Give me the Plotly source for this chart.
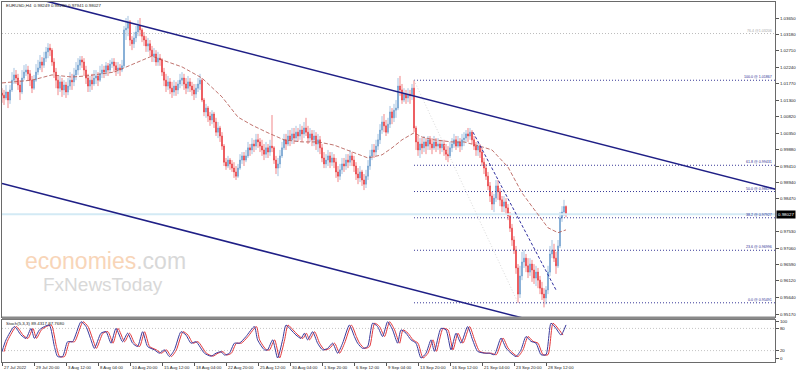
import plotly.graph_objects as go

# ---------------- DATA (EURUSD H4, bar 0 = 27 Jul 2022 08:00) ----------------
bars_close = [
    1.0144, 1.0136, 1.0153, 1.0130, 1.0159, 1.0187, 1.0202, 1.0193, 1.0173, 1.0153,
    1.0193, 1.0210, 1.0216, 1.0205, 1.0187, 1.0164, 1.0187, 1.0210, 1.0222, 1.0239,
    1.0230, 1.0250, 1.0268, 1.0279, 1.0273, 1.0239, 1.0210, 1.0187, 1.0164, 1.0182,
    1.0159, 1.0173, 1.0153, 1.0170, 1.0187, 1.0182, 1.0202, 1.0216, 1.0230, 1.0245,
    1.0239, 1.0216, 1.0193, 1.0170, 1.0187, 1.0176, 1.0193, 1.0199, 1.0187, 1.0205,
    1.0216, 1.0210, 1.0228, 1.0216, 1.0233, 1.0239, 1.0228, 1.0216, 1.0222, 1.0216,
    1.0228, 1.0331, 1.0336, 1.0354, 1.0302, 1.0291, 1.0308, 1.0325, 1.0342, 1.0331,
    1.0313, 1.0302, 1.0285, 1.0291, 1.0273, 1.0256, 1.0262, 1.0239, 1.0250, 1.0245,
    1.0210, 1.0187, 1.0170, 1.0182, 1.0164, 1.0153, 1.0170, 1.0159, 1.0176, 1.0187,
    1.0193, 1.0176, 1.0164, 1.0182, 1.0170, 1.0159, 1.0147, 1.0164, 1.0176, 1.0187,
    1.0130, 1.0096, 1.0107, 1.0084, 1.0073, 1.0090, 1.0067, 1.0038, 1.0050, 1.0027,
    0.9998, 0.9952, 0.9941, 0.9958, 0.9947, 0.9935, 0.9924, 0.9912, 0.9935, 0.9958,
    0.9970, 0.9958, 0.9970, 0.9993, 0.9987, 1.0004, 0.9998, 1.0016, 1.0010, 0.9998,
    0.9987, 0.9975, 0.9993, 0.9981, 0.9998, 0.9993, 0.9958, 0.9935, 0.9947, 0.9970,
    0.9993, 1.0016, 1.0004, 1.0027, 1.0016, 1.0033, 1.0021, 1.0038, 1.0027, 1.0044,
    1.0033, 1.0050, 1.0038, 1.0021, 1.0033, 1.0016, 1.0027, 1.0004, 1.0016, 0.9993,
    0.9964, 0.9947, 0.9958, 0.9970, 0.9952, 0.9964, 0.9952, 0.9924, 0.9912, 0.9930,
    0.9947, 0.9941, 0.9958, 0.9952, 0.9970, 0.9958, 0.9941, 0.9918, 0.9907, 0.9924,
    0.9901, 0.9889, 0.9912, 0.9941, 0.9970, 0.9987, 0.9981, 0.9998, 1.0016, 1.0044,
    1.0067, 1.0056, 1.0038, 1.0061, 1.0096, 1.0079, 1.0101, 1.0107, 1.0170, 1.0159,
    1.0130, 1.0147, 1.0136, 1.0147, 1.0142, 1.0164, 1.0050, 1.0010, 0.9987, 1.0004,
    0.9993, 1.0010, 0.9998, 1.0016, 1.0004, 0.9993, 1.0010, 0.9998, 1.0004, 0.9993,
    1.0004, 0.9987, 0.9975, 0.9970, 0.9993, 1.0004, 1.0016, 0.9998, 1.0010, 0.9998,
    1.0016, 1.0021, 1.0033, 1.0027, 1.0038, 1.0016, 0.9998, 0.9987, 0.9998, 0.9981,
    0.9952, 0.9935, 0.9912, 0.9884, 0.9855, 0.9832, 0.9849, 0.9884, 0.9867, 0.9844,
    0.9826, 0.9838, 0.9821, 0.9798, 0.9763, 0.9729, 0.9700, 0.9649, 0.9574, 0.9626,
    0.9666, 0.9677, 0.9655, 0.9637, 0.9660, 0.9643, 0.9620, 0.9637, 0.9614, 0.9591,
    0.9574, 0.9563, 0.9586, 0.9637, 0.9689, 0.9700, 0.9677, 0.9655, 0.9712, 0.9792,
    0.9809, 0.98249, 0.98027,
]
bars_high = [
    1.0164, 1.0159, 1.0173, 1.0153, 1.0173, 1.0210, 1.0222, 1.0216, 1.0205, 1.0187,
    1.0216, 1.0230, 1.0233, 1.0228, 1.0216, 1.0199, 1.0202, 1.0233, 1.0245, 1.0259,
    1.0253, 1.0268, 1.0282, 1.0293, 1.0291, 1.0279, 1.0250, 1.0222, 1.0199, 1.0199,
    1.0193, 1.0187, 1.0182, 1.0193, 1.0210, 1.0205, 1.0222, 1.0239, 1.0250, 1.0256,
    1.0256, 1.0250, 1.0228, 1.0205, 1.0199, 1.0205, 1.0216, 1.0216, 1.0210, 1.0228,
    1.0233, 1.0228, 1.0239, 1.0236, 1.0245, 1.0250, 1.0250, 1.0239, 1.0239, 1.0233,
    1.0245, 1.0342, 1.0365, 1.0371, 1.0359, 1.0313, 1.0325, 1.0342, 1.0359, 1.0365,
    1.0336, 1.0325, 1.0313, 1.0308, 1.0302, 1.0285, 1.0279, 1.0273, 1.0268, 1.0262,
    1.0250, 1.0222, 1.0205, 1.0199, 1.0193, 1.0182, 1.0187, 1.0182, 1.0187, 1.0205,
    1.0210, 1.0205, 1.0193, 1.0199, 1.0193, 1.0182, 1.0176, 1.0176, 1.0193, 1.0205,
    1.0193, 1.0136, 1.0119, 1.0113, 1.0096, 1.0101, 1.0096, 1.0079, 1.0067, 1.0056,
    1.0038, 1.0004, 0.9964, 0.9970, 0.9964, 0.9958, 0.9952, 0.9941, 0.9947, 0.9975,
    0.9981, 0.9981, 0.9987, 1.0010, 1.0004, 1.0021, 1.0016, 1.0033, 1.0033, 1.0021,
    1.0016, 1.0004, 1.0010, 1.0004, 1.0016, 1.0087, 0.9998, 0.9970, 0.9964, 0.9987,
    1.0010, 1.0033, 1.0033, 1.0044, 1.0044, 1.0050, 1.0050, 1.0056, 1.0050, 1.0061,
    1.0056, 1.0067, 1.0079, 1.0056, 1.0050, 1.0044, 1.0044, 1.0038, 1.0033, 1.0027,
    1.0004, 0.9981, 0.9975, 0.9987, 0.9981, 0.9981, 0.9975, 0.9964, 0.9941, 0.9947,
    0.9964, 0.9964, 0.9975, 0.9975, 0.9987, 0.9981, 0.9970, 0.9952, 0.9935, 0.9941,
    0.9930, 0.9918, 0.9930, 0.9958, 0.9987, 1.0004, 1.0004, 1.0016, 1.0033, 1.0061,
    1.0084, 1.0090, 1.0073, 1.0079, 1.0113, 1.0107, 1.0119, 1.0130, 1.0193, 1.0199,
    1.0176, 1.0164, 1.0159, 1.0164, 1.0159, 1.0176, 1.01867, 1.0056, 1.0027, 1.0021,
    1.0021, 1.0027, 1.0021, 1.0027, 1.0027, 1.0021, 1.0027, 1.0021, 1.0021, 1.0016,
    1.0016, 1.0016, 1.0004, 0.9998, 1.0010, 1.0021, 1.0033, 1.0027, 1.0027, 1.0021,
    1.0033, 1.0038, 1.0044, 1.0050, 1.0050, 1.0044, 1.0027, 1.0010, 1.0010, 1.0004,
    0.9993, 0.9964, 0.9947, 0.9924, 0.9895, 0.9867, 0.9861, 0.9901, 0.9901, 0.9878,
    0.9855, 0.9855, 0.9849, 0.9832, 0.9809, 0.9775, 0.9740, 0.9712, 0.9660, 0.9655,
    0.9695, 0.9700, 0.9689, 0.9677, 0.9677, 0.9672, 0.9660, 0.9655, 0.9649, 0.9626,
    0.9609, 0.9591, 0.9597, 0.9655, 0.9712, 0.9729, 0.9718, 0.9695, 0.9729, 0.9809,
    0.9826, 0.9844, 0.98280,
]
bars_low = [
    1.0122, 1.0116, 1.0130, 1.0107, 1.0119, 1.0153, 1.0176, 1.0176, 1.0159, 1.0130,
    1.0147, 1.0187, 1.0199, 1.0187, 1.0170, 1.0150, 1.0159, 1.0182, 1.0202, 1.0216,
    1.0210, 1.0222, 1.0239, 1.0250, 1.0256, 1.0228, 1.0193, 1.0164, 1.0144, 1.0153,
    1.0139, 1.0144, 1.0136, 1.0144, 1.0159, 1.0159, 1.0170, 1.0187, 1.0202, 1.0216,
    1.0222, 1.0199, 1.0176, 1.0153, 1.0153, 1.0159, 1.0170, 1.0176, 1.0170, 1.0182,
    1.0193, 1.0193, 1.0199, 1.0199, 1.0210, 1.0222, 1.0210, 1.0199, 1.0205, 1.0199,
    1.0210, 1.0222, 1.0302, 1.0313, 1.0285, 1.0273, 1.0279, 1.0296, 1.0313, 1.0313,
    1.0296, 1.0285, 1.0268, 1.0268, 1.0256, 1.0239, 1.0239, 1.0228, 1.0228, 1.0228,
    1.0199, 1.0170, 1.0153, 1.0159, 1.0147, 1.0136, 1.0142, 1.0142, 1.0147, 1.0164,
    1.0170, 1.0159, 1.0147, 1.0153, 1.0153, 1.0142, 1.0130, 1.0136, 1.0153, 1.0159,
    1.0124, 1.0084, 1.0079, 1.0067, 1.0056, 1.0061, 1.0050, 1.0027, 1.0021, 1.0010,
    0.9987, 0.9941, 0.9930, 0.9935, 0.9930, 0.9924, 0.9907, 0.9901, 0.9907, 0.9930,
    0.9947, 0.9941, 0.9952, 0.9964, 0.9970, 0.9975, 0.9981, 0.9987, 0.9993, 0.9981,
    0.9970, 0.9958, 0.9964, 0.9964, 0.9970, 0.9981, 0.9947, 0.9918, 0.9912, 0.9935,
    0.9964, 0.9987, 0.9987, 0.9998, 0.9998, 1.0004, 1.0004, 1.0010, 1.0010, 1.0016,
    1.0010, 1.0021, 1.0027, 1.0004, 1.0010, 0.9998, 0.9998, 0.9987, 0.9981, 0.9975,
    0.9952, 0.9935, 0.9935, 0.9941, 0.9935, 0.9941, 0.9935, 0.9907, 0.9895, 0.9901,
    0.9918, 0.9924, 0.9930, 0.9935, 0.9941, 0.9941, 0.9924, 0.9901, 0.9889, 0.9895,
    0.9884, 0.9872, 0.9878, 0.9901, 0.9930, 0.9958, 0.9964, 0.9970, 0.9987, 1.0004,
    1.0033, 1.0038, 1.0027, 1.0033, 1.0050, 1.0061, 1.0067, 1.0079, 1.0101, 1.0142,
    1.0119, 1.0124, 1.0119, 1.0124, 1.0119, 1.0130, 1.0038, 0.9987, 0.9970, 0.9964,
    0.9975, 0.9981, 0.9975, 0.9987, 0.9987, 0.9975, 0.9987, 0.9981, 0.9987, 0.9975,
    0.9981, 0.9970, 0.9958, 0.9952, 0.9964, 0.9981, 0.9993, 0.9987, 0.9993, 0.9981,
    0.9987, 0.9998, 1.0010, 1.0010, 1.0016, 1.0004, 0.9987, 0.9970, 0.9970, 0.9964,
    0.9941, 0.9918, 0.9901, 0.9872, 0.9838, 0.9815, 0.9809, 0.9838, 0.9844, 0.9826,
    0.9809, 0.9809, 0.9803, 0.9786, 0.9752, 0.9712, 0.9689, 0.9632, 0.95491, 0.9563,
    0.9614, 0.9649, 0.9637, 0.9620, 0.9626, 0.9609, 0.9603, 0.9597, 0.9591, 0.9574,
    0.9557, 0.9536, 0.9545, 0.9574, 0.9626, 0.9677, 0.9666, 0.9632, 0.9649, 0.9706,
    0.9781, 0.9798, 0.97941,
]
first_open = 1.0150

# Moving average (dashed) sampled at bars
ma_bar = [0, 15, 25, 35, 42, 56, 61, 71, 75, 80, 90, 100, 110, 118, 125, 133, 141, 150,
          158, 166, 175, 183, 190, 195, 200, 206, 210, 216, 225, 231, 240, 245, 253, 260,
          265, 270, 273, 278, 282]
ma_val = [1.0179, 1.0187, 1.0202, 1.0196, 1.0199, 1.0210, 1.0222, 1.0245, 1.0256, 1.0245,
          1.0225, 1.0193, 1.0139, 1.0081, 1.0058, 1.0036, 1.0016, 1.0010, 1.0010, 1.0001,
          0.9981, 0.9964, 0.9973, 0.9993, 1.0016, 1.0036, 1.0024, 1.0016, 1.0010, 1.0010,
          0.9996, 0.9987, 0.9938, 0.9864, 0.9825, 0.9787, 0.9764, 0.9750, 0.9758]

# Drawing objects (bar index, price)
chan_upper_bar = [0, 387]
chan_upper_px = [1.0446, 0.9874]
chan_lower_bar = [0, 387]
chan_lower_px = [0.9891, 0.9318]
trend_dash_bar = [235.5, 277]
trend_dash_px = [1.0038, 0.9586]
fib_base_bar = [206, 258]
fib_base_px = [1.01867, 0.95491]
fib_levels = [100.0, 61.8, 50.0, 38.2, 23.6, 0.0]
fib_prices = [1.01867, 0.99431, 0.98679, 0.97927, 0.96996, 0.95491]
fib_start_bar = 206
fib_other_level = 76.4
fib_other_price = 1.03206
last_price = 0.98027

# Stochastic (5,3,3) main line readings
stoch_bar = [0, 2, 6.2, 9.5, 12, 14.5, 16.2, 18.7, 21.2, 23.7, 26.2, 27.8, 30.3, 32.8, 35.3,
             39.5, 42, 44.5, 46.2, 49.5, 52, 54.5, 57, 60.3, 62.8, 65.3, 67.8, 70.3, 72.8,
             76.2, 78.7, 81.2, 83.7, 86.2, 89.5, 92, 94.5, 97, 101.2, 104.5, 107, 109.5,
             111.2, 113.7, 116.2, 118.7, 122, 126.2, 127.8, 131.2, 132.8, 135.3, 137.8,
             140.3, 142, 144.5, 147, 149.5, 151.2, 152.8, 155.3, 157.8, 160.3, 162.8, 165.3,
             167.8, 170.3, 173.7, 176.2, 177.8, 180.3, 182.8, 185.3, 187.8, 190.3, 192.8,
             195.3, 197.8, 199.5, 202, 204.5, 207, 209.5, 212, 214.5, 216.2, 219.5, 222,
             224.5, 227, 229.5, 232.8, 235.3, 237.8, 241.2, 243.7, 246.2, 249.5, 252, 254.5,
             257, 259.5, 262, 264.5, 267, 269.5, 272, 274.5, 277, 279.5, 282]
stoch_main = [17, 49, 85, 62, 53, 80, 53, 76, 85, 89, 31, 4, 4, 44, 44,
              98, 85, 49, 26, 67, 71, 40, 80, 44, 67, 40, 31, 71, 31,
              22, 13, 22, 4, 22, 71, 62, 40, 44, 13, 5, 13, 17,
              8, 13, 40, 40, 58, 85, 49, 22, 22, 49, 0,
              49, 89, 76, 62, 53, 67, 49, 71, 40, 22, 26, 40,
              13, 40, 89, 58, 40, 26, 31, 94, 85, 58, 98,
              76, 40, 76, 67, 49, 40, 0, 13, 49, 18, 80, 76,
              22, 67, 40, 85, 49, 18, 13, 13, 9, 54, 27, 13,
              4, 22, 58, 45, 40, 9, 9, 94, 80, 62, 89.43]
stoch_signal_lag = 1  # signal line trails the main line by about one bar

date_label_bar = [0, 16, 32, 48, 64, 80, 96, 112, 128, 144, 160, 176, 192, 208, 224, 240, 256, 272]
date_label_text = ["27 Jul 2022", "29 Jul 20:00", "3 Aug 12:00", "8 Aug 04:00", "10 Aug 20:00",
                   "15 Aug 12:00", "18 Aug 04:00", "22 Aug 20:00", "25 Aug 12:00", "30 Aug 04:00",
                   "1 Sep 20:00", "6 Sep 12:00", "9 Sep 04:00", "13 Sep 20:00", "16 Sep 12:00",
                   "21 Sep 04:00", "23 Sep 20:00", "28 Sep 12:00"]
price_ticks = [1.03650, 1.03180, 1.02710, 1.02240, 1.01770, 1.01300, 1.00820, 1.00350,
               0.99880, 0.99410, 0.98940, 0.98470, 0.97530, 0.97060, 0.96590, 0.96120,
               0.95640, 0.95170]
stoch_ticks = [100, 80, 20, 0]

# ---------------- FIGURE ----------------
n = len(bars_close)
assert len(bars_high) == n and len(bars_low) == n
bars_open = [first_open] + bars_close[:-1]
hi = [max(h, o, c) for h, o, c in zip(bars_high, bars_open, bars_close)]
lo = [min(l, o, c) for l, o, c in zip(bars_low, bars_open, bars_close)]
idx = list(range(n))

W, H = 798, 372
ML, MR, MT, MB = 2, 23, 2, 10
PH = H - MT - MB
PW = W - ML - MR


def py(p):
    return (H - MB - p) / PH


def pxp(p):
    return (p - ML) / PW


FONT = "Liberation Sans"
UP, DOWN = "#6a9ccc", "#e8353a"
NAVY = "#1f1f86"
XMAX = 386.5

fig = go.Figure()

# current price (bid) line
fig.add_trace(go.Scatter(x=[0, XMAX], y=[last_price, last_price], mode="lines",
                         line=dict(color="#d3eaf5", width=2), hoverinfo="skip"))
# 76.4 gray dotted line
fig.add_trace(go.Scatter(x=[0, XMAX], y=[fib_other_price, fib_other_price], mode="lines",
                         line=dict(color="#bcbcbc", width=1, dash="1px,2px"), hoverinfo="skip"))
# fib levels
for lv, pr in zip(fib_levels, fib_prices):
    fig.add_trace(go.Scatter(x=[fib_start_bar, XMAX], y=[pr, pr], mode="lines",
                             line=dict(color="#3a3a98", width=1, dash="1px,2px"), hoverinfo="skip"))
# fib base line
fig.add_trace(go.Scatter(x=fib_base_bar, y=fib_base_px, mode="lines",
                         line=dict(color="#dadada", width=1, dash="1px,2px"), hoverinfo="skip"))

fig.add_trace(go.Candlestick(
    x=idx, open=bars_open, high=hi, low=lo, close=bars_close,
    increasing=dict(line=dict(color=UP, width=0.6), fillcolor=UP),
    decreasing=dict(line=dict(color=DOWN, width=0.6), fillcolor=DOWN),
    whiskerwidth=0, hoverinfo="skip", xaxis="x", yaxis="y"))

# MA
fig.add_trace(go.Scatter(x=ma_bar, y=ma_val, mode="lines",
                         line=dict(color="#b0504a", width=0.8, dash="4px,2px"), hoverinfo="skip"))
# dashed trend line
fig.add_trace(go.Scatter(x=trend_dash_bar, y=trend_dash_px, mode="lines",
                         line=dict(color="#3030a0", width=1, dash="3px,2px"), hoverinfo="skip"))
# channel
fig.add_trace(go.Scatter(x=chan_upper_bar, y=chan_upper_px, mode="lines",
                         line=dict(color=NAVY, width=1.6), hoverinfo="skip"))
fig.add_trace(go.Scatter(x=chan_lower_bar, y=chan_lower_px, mode="lines",
                         line=dict(color=NAVY, width=1.6), hoverinfo="skip"))

# stochastic levels
for lv in (80, 20):
    fig.add_trace(go.Scatter(x=[0, XMAX], y=[lv, lv], mode="lines", xaxis="x2", yaxis="y2",
                             line=dict(color="#c4c4c4", width=1, dash="1px,2px"), hoverinfo="skip"))
fig.add_trace(go.Scatter(x=[b + stoch_signal_lag for b in stoch_bar[:-1]], y=stoch_main[:-1],
                         mode="lines", xaxis="x2", yaxis="y2",
                         line=dict(color="#e2383c", width=1, shape="spline", smoothing=0.6),
                         hoverinfo="skip"))
fig.add_trace(go.Scatter(x=stoch_bar, y=stoch_main, mode="lines", xaxis="x2", yaxis="y2",
                         line=dict(color="#3a3a9c", width=1, shape="spline", smoothing=0.6),
                         hoverinfo="skip"))

ann = []
ann.append(dict(xref="paper", yref="paper", x=pxp(4), y=py(6), xanchor="left", yanchor="middle",
                text="EURUSD,H4  0.98249 0.98280 0.97941 0.98027", showarrow=False,
                font=dict(family=FONT, size=4.4, color="#222")))
ann.append(dict(xref="paper", yref="paper", x=pxp(4), y=py(323), xanchor="left", yanchor="middle",
                text="Stoch(5,3,3) 89.4317 87.7680", showarrow=False,
                font=dict(family=FONT, size=4.4, color="#222")))
for lv, pr in zip(fib_levels, fib_prices):
    ann.append(dict(xref="x", yref="y", x=XMAX - 1, y=pr, xanchor="right", yanchor="bottom",
                    text=f"{lv:.1f} @ {pr:.5f}", showarrow=False, borderpad=0,
                    font=dict(family=FONT, size=3.6, color="#2b2b90")))
ann.append(dict(xref="x", yref="y", x=XMAX - 1, y=fib_other_price, xanchor="right", yanchor="bottom",
                text=f"{fib_other_level:.1f} @{fib_other_price:.5f}", showarrow=False, borderpad=0,
                font=dict(family=FONT, size=3.6, color="#a8a8a8")))
ann.append(dict(xref="paper", yref="y", x=1.0, y=last_price, xanchor="left", yanchor="middle",
                xshift=1, text=f"{last_price:.5f}", showarrow=False, bgcolor="#000",
                borderpad=1, font=dict(family=FONT, size=4.4, color="#fff")))
for b, t in zip(date_label_bar, date_label_text):
    ann.append(dict(xref="x", yref="paper", x=b, y=py(367), xanchor="left", yanchor="middle",
                    text=t, showarrow=False, font=dict(family=FONT, size=4.3, color="#222")))
# watermark
ann.append(dict(xref="paper", yref="paper", x=pxp(24), y=py(261), xanchor="left", yanchor="middle",
                text="<span style='color:#f8d5b8'>economies</span><span style='color:#d8d8d8'>.com</span>",
                showarrow=False, borderpad=0, font=dict(family=FONT, size=23)))
ann.append(dict(xref="paper", yref="paper", x=pxp(42), y=py(284), xanchor="left", yanchor="middle",
                text="FxNewsToday", showarrow=False, borderpad=0,
                font=dict(family=FONT, size=19, color="#d8d8d8")))

axis_line = dict(showline=True, linecolor="#6a6a6a", linewidth=1, mirror=True,
                 showgrid=False, zeroline=False)

fig.update_layout(
    width=W, height=H, margin=dict(l=ML, r=MR, t=MT, b=MB),
    paper_bgcolor="white", plot_bgcolor="white", showlegend=False,
    xaxis=dict(range=[0, XMAX], domain=[0, 1], anchor="y", showticklabels=False, ticks="",
               rangeslider=dict(visible=False), **axis_line),
    xaxis2=dict(range=[0, XMAX], domain=[0, 1], anchor="y2", matches="x", showticklabels=False,
                ticks="outside", ticklen=3, tickcolor="#555", tickvals=date_label_bar, **axis_line),
    yaxis=dict(domain=[py(317), 1], range=[0.95084, 1.04109], side="right", anchor="x",
               tickvals=price_ticks, ticktext=[f"{v:.5f}" for v in price_ticks],
               ticks="outside", ticklen=3, tickcolor="#555",
               tickfont=dict(family=FONT, size=4.4, color="#222"), **axis_line),
    yaxis2=dict(domain=[0, py(319.5)], range=[-10.8, 104.05], side="right", anchor="x2",
                tickvals=stoch_ticks, ticktext=[str(v) for v in stoch_ticks],
                ticks="outside", ticklen=3, tickcolor="#555",
                tickfont=dict(family=FONT, size=4.4, color="#222"), **axis_line),
    annotations=ann,
    shapes=[dict(type="rect", xref="paper", yref="paper", x0=0, x1=1, y0=py(319.5), y1=py(316.5),
                 fillcolor="#8a8a8a", line=dict(width=0), layer="above")],
)

fig.write_html("out.html")
